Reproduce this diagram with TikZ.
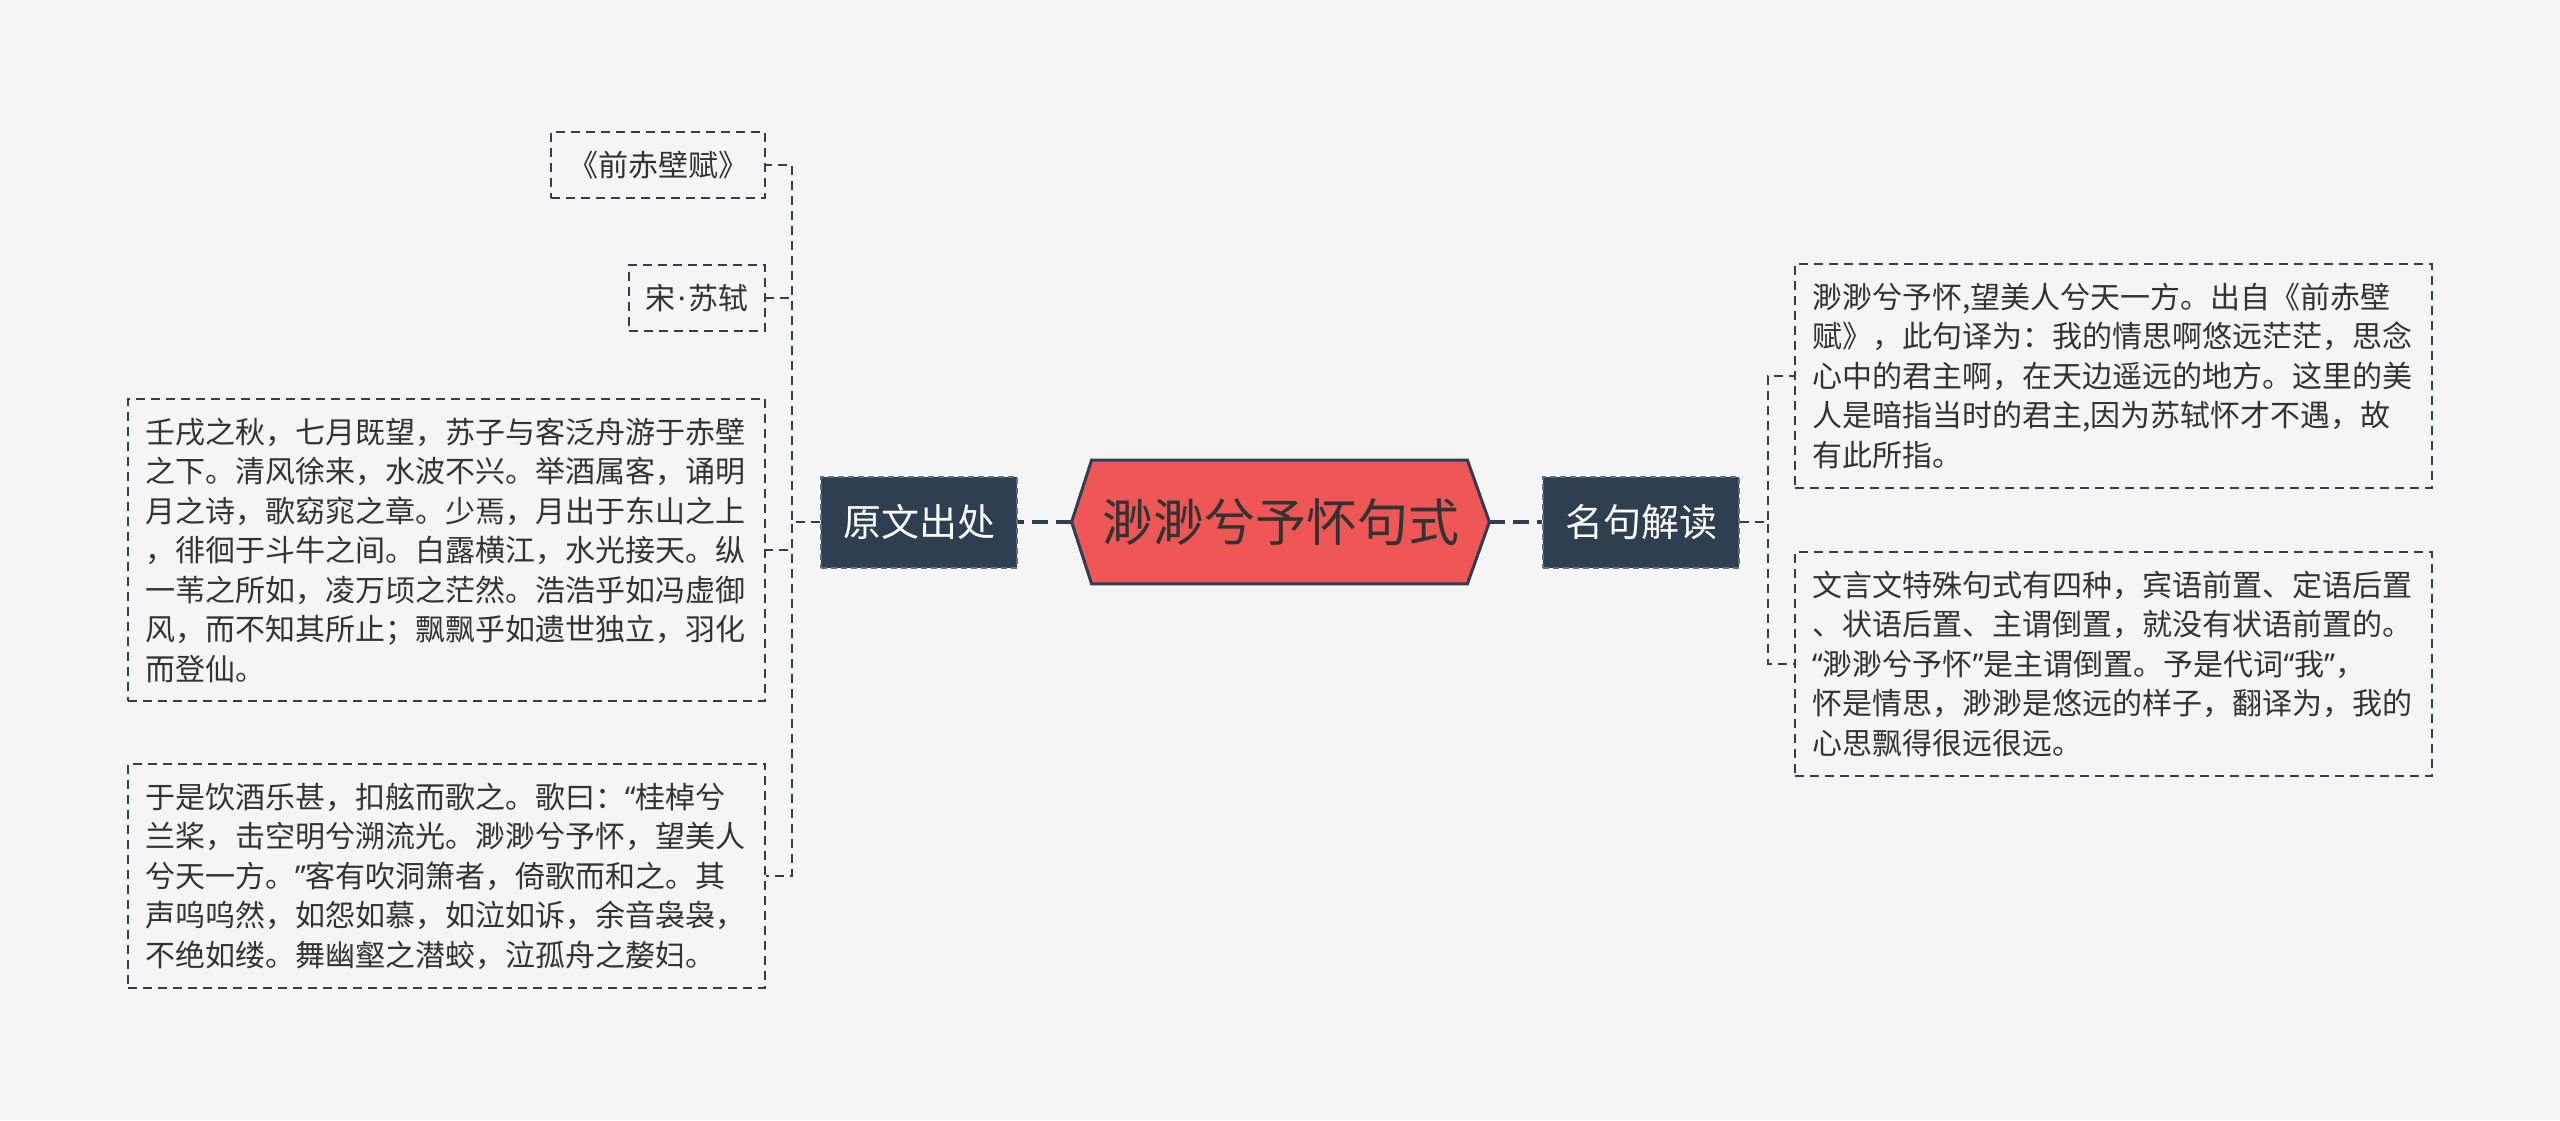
\documentclass[tikz,border=0pt]{standalone}
\usepackage{fontspec}
\setmainfont{Noto Sans CJK SC}
\newfontfamily\latinf{Noto Sans}
\newcommand{\myLq}{{\latinf “}}
\newcommand{\myRq}{{\latinf ”}}
\definecolor{bg}{HTML}{F5F5F5}
\definecolor{navy}{HTML}{2E3F51}
\definecolor{hexred}{HTML}{EF5656}
\definecolor{txt}{HTML}{333333}
\begin{document}
\begin{tikzpicture}[x=0.5pt,y=-0.5pt,
  leaf/.style={draw=navy, line width=1pt, dash pattern=on 4.5pt off 3pt, fill=bg, text=txt,
    inner xsep=8.5pt, inner ysep=9.5pt, font=\fontsize{15pt}{19.75pt}\selectfont, align=left},
  bigleaf/.style={leaf, text width=301.5pt},
  topic/.style={fill=navy, draw=navy!75!white, line width=1pt, dash pattern=on 3pt off 2pt, text=white,
    font=\fontsize{19pt}{23pt}\selectfont, minimum width=98pt, minimum height=45.5pt, inner sep=0pt},
  link/.style={draw=navy, line width=1pt, dash pattern=on 4.5pt off 3pt},
  mainlink/.style={draw=navy, line width=2pt, dash pattern=on 8pt off 4pt}
]
\fill[bg] (0,0) rectangle (2560,1120);
\useasboundingbox (0,0) rectangle (2560,1120);

% centre
\node[minimum width=208.5pt, minimum height=61.5pt, inner sep=0pt] (C) at (1280.5,522) {};
\filldraw[fill=hexred, draw=navy, line width=1.5pt]
  (C.west) -- ([xshift=10pt]C.north west) -- ([xshift=-11pt]C.north east) -- (C.east)
  -- ([xshift=-11pt]C.south east) -- ([xshift=10pt]C.south west) -- cycle;
\node[font=\fontsize{25.5pt}{30pt}\selectfont, text=txt] (Ctext) at (C.center) {渺渺兮予怀句式};

% level 1
\node[topic] (L) at (919,522) {原文出处};
\node[topic] (R) at (1641,522) {名句解读};

% left leaves
\node[leaf, anchor=east] (s1) at (766,165) {《前赤壁赋》};
\node[leaf, anchor=east] (s2) at (766,298) {宋{\latinf\kern1pt·\kern1pt}苏轼};
\node[bigleaf, anchor=east] (s3) at (766,550) {壬戌之秋，七月既望，苏子与客泛舟游于赤壁\\之下。清风徐来，水波不兴。举酒属客，诵明\\月之诗，歌窈窕之章。少焉，月出于东山之上\\，徘徊于斗牛之间。白露横江，水光接天。纵\\一苇之所如，凌万顷之茫然。浩浩乎如冯虚御\\风，而不知其所止；飘飘乎如遗世独立，羽化\\而登仙。};
\node[bigleaf, anchor=east] (s4) at (766,876) {于是饮酒乐甚，扣舷而歌之。歌曰：\myLq 桂棹兮\\兰桨，击空明兮溯流光。渺渺兮予怀，望美人\\兮天一方。\myRq 客有吹洞箫者，倚歌而和之。其\\声呜呜然，如怨如慕，如泣如诉，余音袅袅，\\不绝如缕。舞幽壑之潜蛟，泣孤舟之嫠妇。};

% right leaves
\node[bigleaf, anchor=west] (r1) at (1794,376) {渺渺兮予怀,望美人兮天一方。出自《前赤壁\\赋》，此句译为：我的情思啊悠远茫茫，思念\\心中的君主啊，在天边遥远的地方。这里的美\\人是暗指当时的君主,因为苏轼怀才不遇，故\\有此所指。};
\node[bigleaf, anchor=west] (r2) at (1794,664) {文言文特殊句式有四种，宾语前置、定语后置\\、状语后置、主谓倒置，就没有状语前置的。\\\myLq 渺渺兮予怀\myRq 是主谓倒置。予是代词\myLq 我\myRq ，\\怀是情思，渺渺是悠远的样子，翻译为，我的\\心思飘得很远很远。};

% connectors
\draw[mainlink] (C.west) -- (L.east);
\draw[mainlink] (C.east) -- (R.west);
\foreach \n in {s1,s2,s3,s4} \draw[link] (L.west) -- ++(-28,0) |- (\n.east);
\foreach \n in {r1,r2} \draw[link] (R.east) -- ++(28,0) |- (\n.west);
\end{tikzpicture}
\end{document}
